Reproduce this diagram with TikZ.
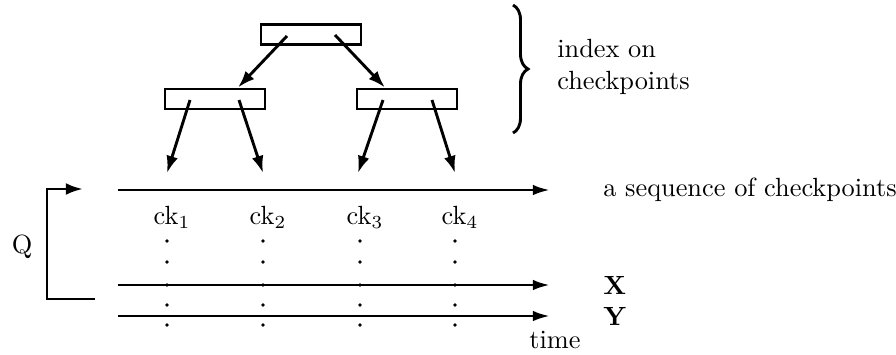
\documentclass[tikz,border=0pt]{standalone}
\usepackage{tikz}
\usetikzlibrary{arrows.meta,calc,decorations.pathreplacing}

\begin{document}
\begin{tikzpicture}[x=0.38pt,y=-0.38pt,
  idxbox/.style={draw,line width=1.1pt,minimum width=38pt,minimum height=7.6pt,inner sep=0pt},
  arr/.style={-{Latex[length=6.5pt,width=4.5pt]},line width=1.1pt},
  tline/.style={-{Latex[length=6.5pt,width=4pt]},line width=1.1pt}]
\useasboundingbox (0,0) rectangle (896,354);
% index tree
\node[idxbox] (root) at (311,34.5) {};
\node[idxbox] (lft) at (215,99) {};
\node[idxbox] (rgt) at (407,99) {};
\draw[arr] ($(root.center)+(-24,1.5)$) -- ($(lft.north)+(23,0)$);
\draw[arr] ($(root.center)+(24,0.5)$) -- ($(rgt.north)+(-22,0)$);
% pointers down to the checkpoints
\coordinate (p1) at (167,173);
\coordinate (p2) at (263,173);
\coordinate (p3) at (358,173);
\coordinate (p4) at (455,173);
\draw[arr] ($(lft.center)+(-25,1)$) -- (p1);
\draw[arr] ($(lft.center)+(24,1)$) -- (p2);
\draw[arr] ($(rgt.center)+(-24,1)$) -- (p3);
\draw[arr] ($(rgt.center)+(25,1)$) -- (p4);
% brace
\draw[line width=1.1pt,decorate,decoration={brace,amplitude=5.7pt}] (513,5) -- (513,133);
\node[anchor=west,align=left] (idxlbl) at (548,67) {index on\\checkpoints};
% time lines
\coordinate (seqS) at (118,190);
\coordinate (seqE) at (550,190);
\coordinate (xS) at (118,285);
\coordinate (xE) at (550,285);
\coordinate (yS) at (118,316);
\coordinate (yE) at (550,316);
\draw[tline] (seqS) -- (seqE);
\draw[tline] (xS) -- (xE);
\draw[tline] (yS) -- (yE);
\node[anchor=west] (seqlbl) at (594,190) {a sequence of checkpoints};
\node[anchor=west] (xlbl) at (594,285) {\textbf{X}};
\node[anchor=west] (ylbl) at (594,316) {\textbf{Y}};
\node (timelbl) at (555,340) {time};
% checkpoints and their dotted columns
\foreach \x/\i in {167/1,263/2,360/3,455/4} {
  \node (ck\i) at (\x+5,217) {$\mathrm{ck}_\i$};
  \foreach \y in {241,262,285,305,325}
    \fill (\x,\y) circle (0.7pt);
}
% Q bracket
\node (q) at (22,247) {Q};
\coordinate (qB) at (95,299);
\coordinate (qT) at (83,189);
\draw[arr] (qB) -- (47,299) -- (47,189) -- (qT);
\end{tikzpicture}
\end{document}
